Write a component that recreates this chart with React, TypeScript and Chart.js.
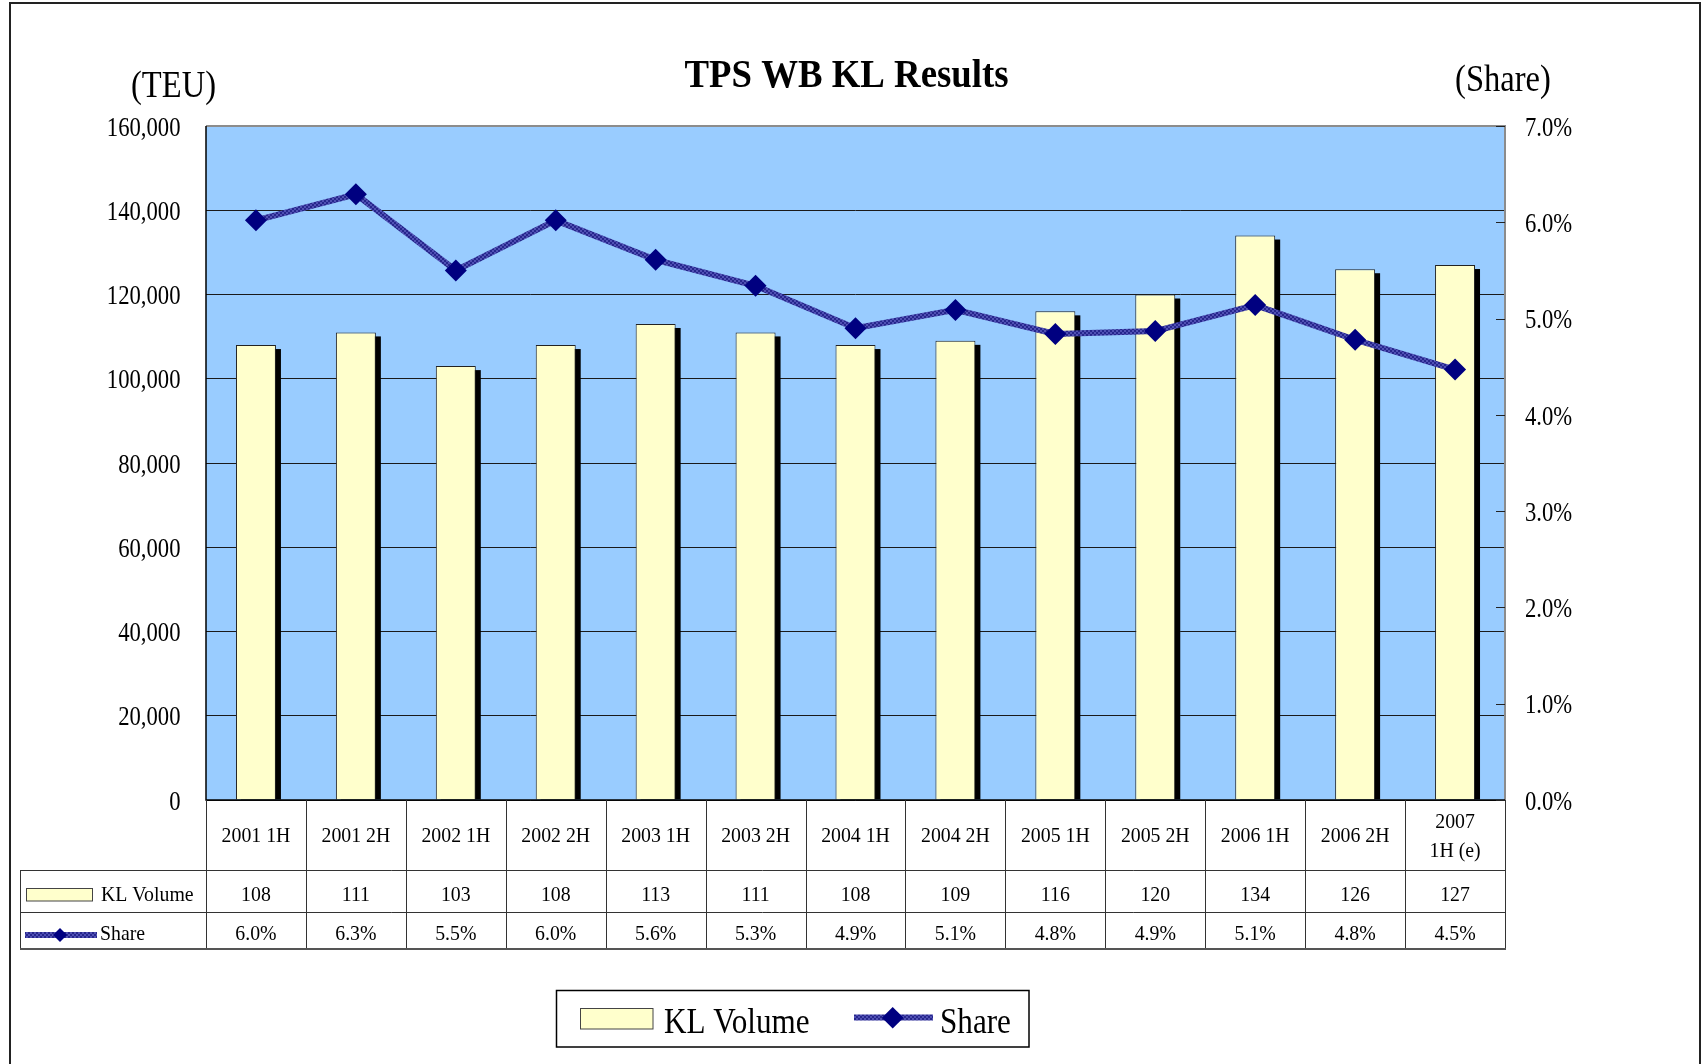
import { useEffect, useRef } from 'react';
import { Chart, registerables } from 'chart.js';

Chart.register(...registerables);

// ---- data ----
const categories: (string | string[])[] = [
  '2001 1H', '2001 2H', '2002 1H', '2002 2H', '2003 1H', '2003 2H', '2004 1H',
  '2004 2H', '2005 1H', '2005 2H', '2006 1H', '2006 2H', ['2007', '1H (e)'],
];
// KL Volume in thousand TEU
const klVolumeK = [108, 111, 103, 108, 113, 111, 108, 109, 116, 120, 134, 126, 127];
// Share in percent
const sharePct = [6.02, 6.29, 5.5, 6.02, 5.61, 5.34, 4.9, 5.09, 4.84, 4.87, 5.14, 4.78, 4.47];
const volumeTicks = [0, 20000, 40000, 60000, 80000, 100000, 120000, 140000, 160000];
const shareTicks = [0, 1, 2, 3, 4, 5, 6, 7];

const chartTitle = 'TPS WB KL Results';
const leftUnit = '(TEU)';
const rightUnit = '(Share)';
const volumeLabel = 'KL Volume';
const shareLabel = 'Share';

const SERIF = '"Liberation Serif", "Times New Roman", serif';

function drawText(
  ctx: CanvasRenderingContext2D, s: string, x: number, y: number, size: number,
  align: 'left' | 'right' | 'center', sx: number, bold = false,
) {
  ctx.save();
  ctx.font = `${bold ? 'bold ' : ''}${size}px ${SERIF}`;
  ctx.textBaseline = 'alphabetic';
  ctx.textAlign = 'left';
  ctx.fillStyle = '#000';
  const w = ctx.measureText(s).width * sx;
  const x0 = align === 'left' ? x : align === 'right' ? x - w : x - w / 2;
  ctx.translate(x0, y);
  ctx.scale(sx, 1);
  ctx.fillText(s, 0, 0);
  ctx.restore();
}

function makePattern(): CanvasPattern | string {
  const pc = document.createElement('canvas');
  pc.width = 4; pc.height = 4;
  const p = pc.getContext('2d');
  if (!p) return '#333399';
  p.fillStyle = '#5050b4'; p.fillRect(0, 0, 4, 4);
  p.fillStyle = '#26268c'; p.fillRect(0, 0, 2, 2); p.fillRect(2, 2, 2, 2);
  return p.createPattern(pc, 'repeat') || '#333399';
}

function diamond(ctx: CanvasRenderingContext2D, x: number, y: number, r: number) {
  ctx.beginPath();
  ctx.moveTo(x - r, y); ctx.lineTo(x, y - r); ctx.lineTo(x + r, y); ctx.lineTo(x, y + r);
  ctx.closePath();
  ctx.fillStyle = '#000080';
  ctx.fill();
}

export default function App() {
  const ref = useRef<HTMLCanvasElement>(null);

  useEffect(() => {
    document.body.style.margin = '0';
    const canvas = ref.current;
    if (!canvas) return;
    const pattern = makePattern();

    const klPlugin = {
      id: 'klPlugin',
      beforeDraw(chart: any) {
        const { ctx, chartArea: a } = chart;
        ctx.save();
        ctx.fillStyle = '#ffffff';
        ctx.fillRect(0, 0, chart.width, chart.height);
        ctx.fillStyle = '#99CCFF';
        ctx.fillRect(a.left, a.top, a.right - a.left, a.bottom - a.top);
        ctx.restore();
      },
      beforeDatasetsDraw(chart: any) {
        const { ctx } = chart;
        const meta = chart.getDatasetMeta(0);
        ctx.save();
        ctx.fillStyle = '#000';
        meta.data.forEach((bar: any) => {
          const w = bar.width;
          ctx.fillRect(bar.x - w / 2 + 5, bar.y + 4, w, bar.base - bar.y - 4);
        });
        ctx.restore();
      },
      afterDraw(chart: any) {
        const { ctx, chartArea: a, scales } = chart;
        const ys = scales.y;
        const y1 = scales.y1;
        const xs = scales.x;
        ctx.save();

        // plot border
        ctx.lineWidth = 2;
        ctx.strokeStyle = '#8c8c8c';
        ctx.beginPath();
        ctx.moveTo(a.left, a.top); ctx.lineTo(a.right, a.top); ctx.lineTo(a.right, a.bottom);
        ctx.stroke();
        ctx.lineWidth = 1.5;
        ctx.strokeStyle = '#000';
        ctx.beginPath();
        ctx.moveTo(a.left, a.top); ctx.lineTo(a.left, a.bottom); ctx.lineTo(a.right, a.bottom);
        ctx.stroke();

        // right axis inner ticks
        ctx.lineWidth = 1;
        ctx.strokeStyle = '#222';
        shareTicks.forEach((t) => {
          const y = Math.round(y1.getPixelForValue(t)) + 0.5;
          ctx.beginPath(); ctx.moveTo(a.right - 9, y); ctx.lineTo(a.right, y); ctx.stroke();
        });

        // axis labels
        volumeTicks.forEach((t) => {
          drawText(ctx, t.toLocaleString('en-US'), a.left - 25.5, ys.getPixelForValue(t) + 9.7, 27, 'right', 0.84);
        });
        shareTicks.forEach((t) => {
          drawText(ctx, t.toFixed(1) + '%', a.right + 20, y1.getPixelForValue(t) + 9.7, 27, 'left', 0.84);
        });

        // titles
        drawText(ctx, chartTitle, 846.5, 86.5, 40, 'center', 0.92, true);
        drawText(ctx, leftUnit, 173.5, 96.5, 37, 'center', 0.88);
        drawText(ctx, rightUnit, 1503, 90.5, 37, 'center', 0.88);

        // data table
        const n = categories.length;
        const cw = (a.right - a.left) / n;
        const tTop = a.bottom;
        const r1 = 870;
        const r2 = 912;
        const r3 = 949;
        const tLeft = 20;
        ctx.strokeStyle = '#333';
        ctx.lineWidth = 1;
        ctx.beginPath();
        for (let i = 0; i <= n; i++) {
          const x = Math.round(a.left + i * cw) + 0.5;
          ctx.moveTo(x, tTop); ctx.lineTo(x, r3);
        }
        ctx.moveTo(tLeft + 0.5, r1); ctx.lineTo(tLeft + 0.5, r3);
        [r1, r2].forEach((y) => { ctx.moveTo(tLeft, y + 0.5); ctx.lineTo(a.right, y + 0.5); });
        ctx.stroke();
        ctx.lineWidth = 2;
        ctx.strokeStyle = '#555';
        ctx.beginPath(); ctx.moveTo(tLeft, r3); ctx.lineTo(a.right + 1, r3); ctx.stroke();

        categories.forEach((c, i) => {
          const cx = xs.getPixelForValue(i);
          if (Array.isArray(c)) {
            drawText(ctx, c[0], cx, 828, 22, 'center', 0.9);
            drawText(ctx, c[1], cx, 856.5, 22, 'center', 0.9);
          } else {
            drawText(ctx, c, cx, 842, 22, 'center', 0.9);
          }
          drawText(ctx, String(klVolumeK[i]), cx, 901, 22, 'center', 0.9);
          drawText(ctx, sharePct[i].toFixed(1) + '%', cx, 940, 22, 'center', 0.9);
        });

        // table keys
        ctx.fillStyle = '#FFFFCC';
        ctx.fillRect(26.5, 888, 66, 13);
        ctx.strokeStyle = '#444'; ctx.lineWidth = 1;
        ctx.strokeRect(26.5, 888.5, 66, 12.5);
        drawText(ctx, volumeLabel, 101, 901, 22, 'left', 0.9);
        ctx.fillStyle = pattern as any;
        ctx.fillRect(25, 932, 72, 6);
        diamond(ctx, 60, 935, 7);
        drawText(ctx, shareLabel, 100, 940, 22, 'left', 0.9);

        // legend box
        ctx.strokeStyle = '#000'; ctx.lineWidth = 1.5;
        ctx.strokeRect(556.5, 990.5, 472.5, 56.5);
        ctx.fillStyle = '#FFFFCC';
        ctx.fillRect(580, 1008, 73, 21);
        ctx.strokeStyle = '#444'; ctx.lineWidth = 1;
        ctx.strokeRect(580.5, 1008.5, 72.5, 20.5);
        drawText(ctx, volumeLabel, 664, 1032.5, 35, 'left', 0.89);
        ctx.fillStyle = pattern as any;
        ctx.fillRect(854, 1014.5, 79, 6);
        diamond(ctx, 892.7, 1017.7, 10.8);
        drawText(ctx, shareLabel, 940, 1032.5, 35, 'left', 0.89);

        // outer frame
        ctx.strokeStyle = '#222'; ctx.lineWidth = 2;
        ctx.beginPath();
        ctx.moveTo(10, chart.height); ctx.lineTo(10, 3); ctx.lineTo(1700, 3); ctx.lineTo(1700, chart.height);
        ctx.stroke();

        ctx.restore();
      },
    };

    const chart = new Chart(canvas, {
      type: 'bar',
      data: {
        labels: categories as any,
        datasets: [
          {
            type: 'bar',
            label: volumeLabel,
            data: klVolumeK.map((v) => v * 1000),
            backgroundColor: '#FFFFCC',
            borderColor: '#222',
            borderWidth: 1,
            barPercentage: 0.4,
            categoryPercentage: 1.0,
            yAxisID: 'y',
            order: 1,
          },
          {
            type: 'line',
            label: shareLabel,
            data: sharePct,
            borderColor: pattern as any,
            borderWidth: 6,
            pointStyle: 'rectRot',
            pointRadius: 11,
            pointBackgroundColor: '#000080',
            pointBorderColor: '#000080',
            pointBorderWidth: 0,
            tension: 0,
            yAxisID: 'y1',
            order: 0,
          } as any,
        ],
      },
      options: {
        responsive: false,
        animation: false,
        devicePixelRatio: 1,
        layout: { padding: { left: 0, right: 0, top: 126, bottom: 264 } },
        plugins: {
          legend: { display: false },
          tooltip: { enabled: false },
          title: { display: false },
        },
        scales: {
          x: { display: false },
          y: {
            position: 'left',
            min: 0,
            max: 160000,
            ticks: { stepSize: 20000, display: false },
            grid: { color: '#1a1a1a', lineWidth: 1, drawTicks: false },
            border: { display: false },
            afterFit: (s: any) => { s.width = 206; },
          },
          y1: {
            position: 'right',
            min: 0,
            max: 7,
            ticks: { stepSize: 1, display: false },
            grid: { display: false, drawTicks: false },
            border: { display: false },
            afterFit: (s: any) => { s.width = 198; },
          },
        },
      },
      plugins: [klPlugin],
    });

    return () => chart.destroy();
  }, []);

  return (
    <canvas
      ref={ref}
      width={1703}
      height={1064}
      style={{ display: 'block', width: 1703, height: 1064 }}
    />
  );
}
